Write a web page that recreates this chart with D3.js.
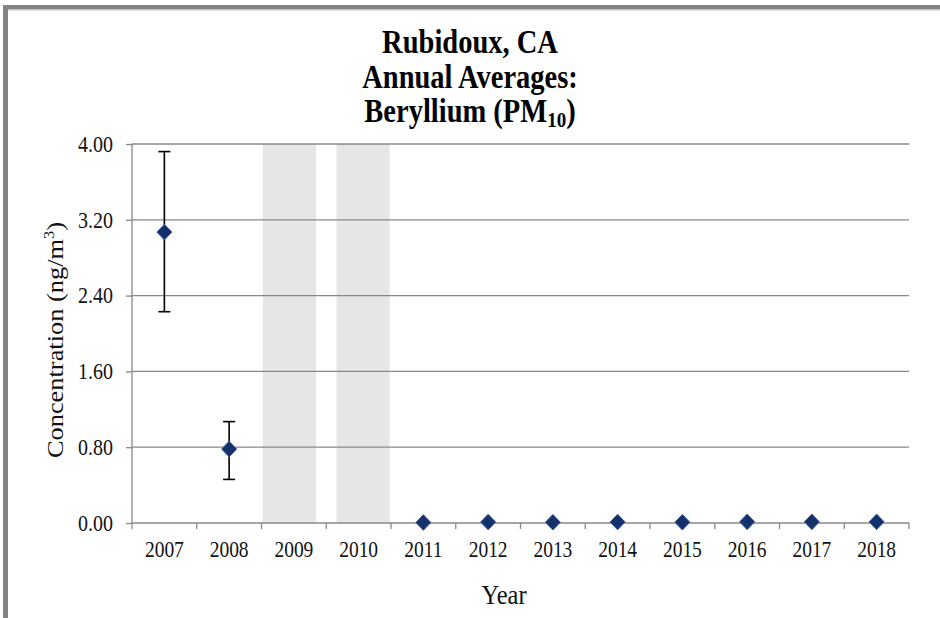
<!DOCTYPE html>
<meta charset="utf-8">
<style>
body { margin: 0; background: #fff; }
text { font-family: "Liberation Serif", "Times New Roman", serif; }
</style>
<svg width="940" height="618"></svg>
<script src="https://cdn.jsdelivr.net/npm/d3@7"></script>
<script>

var years = ["2007","2008","2009","2010","2011","2012","2013","2014","2015","2016","2017","2018"];
var avgYears = ["2007","2008","2011","2012","2013","2014","2015","2016","2017","2018"];
var averages = [3.07, 0.78, 0.005, 0.010, 0.008, 0.010, 0.008, 0.012, 0.012, 0.012];
var lowerCI = [2.23, 0.46, 0.004, 0.009, 0.007, 0.009, 0.007, 0.011, 0.011, 0.011];
var upperCI = [3.92, 1.07, 0.006, 0.011, 0.009, 0.011, 0.009, 0.013, 0.013, 0.013];
var noDataYears = ["2009","2010"];
var yTicks = [0, 0.8, 1.6, 2.4, 3.2, 4.0];

var svg = d3.select("svg"),
    margin = {top: 144, right: 31, bottom: 95, left: 132},
    width = +svg.attr("width") - margin.left - margin.right,
    height = +svg.attr("height") - margin.top - margin.bottom;

var stretch = 1.15; // source image text is a bit tall

// page frame
svg.append("rect").attr("x", 3).attr("y", 5).attr("width", 937).attr("height", 4.5).attr("fill", "#838383");
svg.append("rect").attr("x", 3).attr("y", 5).attr("width", 5).attr("height", 613).attr("fill", "#838383");
svg.append("line").attr("x1", 8).attr("x2", 940).attr("y1", 10.5).attr("y2", 10.5).attr("stroke", "#e4e4e4");

var x = d3.scaleBand().domain(years).range([0, width]);
var y = d3.scaleLinear().domain([0, 4]).range([height, 0]);

var g = svg.append("g").attr("transform", "translate(" + margin.left + "," + margin.top + ")");

// shaded years with no samples
var bw = x.bandwidth() * 0.82;
g.selectAll(".nodata")
    .data(noDataYears)
  .enter().append("rect")
    .attr("class", "nodata")
    .attr("x", function(d, i) { return x(d) + x.bandwidth() / 2 - bw / 2 + (i === 0 ? -4.5 : 4.5); })
    .attr("y", y(4))
    .attr("width", bw)
    .attr("height", y(0) - y(4))
    .attr("fill", "#e6e6e6");

// gridlines
g.selectAll(".grid")
    .data(yTicks.slice(1))
  .enter().append("line")
    .attr("x1", 0).attr("x2", width)
    .attr("y1", function(d) { return y(d); })
    .attr("y2", function(d) { return y(d); })
    .attr("stroke", "#888")
    .attr("stroke-width", 1.3);

// y axis
var yAxis = g.append("g")
    .call(d3.axisLeft(y).tickValues(yTicks).tickFormat(d3.format(".2f")).tickSize(6).tickPadding(13));
yAxis.select(".domain").attr("stroke", "#888").attr("stroke-width", 1.3).attr("d", "M0," + height + "V0");
yAxis.selectAll(".tick line").attr("stroke", "#888").attr("stroke-width", 1.3);
yAxis.selectAll(".tick text")
    .attr("fill", "#111")
    .attr("transform", "scale(1," + stretch + ")")
    .style("font-size", "20px").style("font-family", "Liberation Serif");

// x axis
var xAxis = g.append("g")
    .attr("transform", "translate(0," + height + ")")
    .call(d3.axisBottom(x).tickSize(0).tickPadding(15.5));
xAxis.select(".domain").attr("stroke", "#888").attr("stroke-width", 1.3).attr("d", "M0,0H" + width);
xAxis.selectAll(".tick text")
    .attr("fill", "#111")
    .attr("transform", "scale(1," + stretch + ")")
    .style("font-size", "19.5px").style("font-family", "Liberation Serif");
xAxis.selectAll(".bound")
    .data(years.concat(["end"]))
  .enter().append("line")
    .attr("x1", function(d, i) { return i * x.step(); })
    .attr("x2", function(d, i) { return i * x.step(); })
    .attr("y1", 0).attr("y2", 6)
    .attr("stroke", "#888").attr("stroke-width", 1.3);

// error bars
var pts = avgYears.map(function(yr, i) {
  return {year: yr, mean: averages[i], lo: lowerCI[i], hi: upperCI[i]};
});
var cx = function(d) { return x(d.year) + x.bandwidth() / 2; };
var err = g.selectAll(".err").data(pts).enter().append("g").attr("class", "err")
    .attr("stroke", "#000").attr("stroke-width", 1.6);
err.append("line")
    .attr("x1", cx).attr("x2", cx)
    .attr("y1", function(d) { return y(d.hi); })
    .attr("y2", function(d) { return y(d.lo); });
err.append("line")
    .attr("x1", function(d) { return cx(d) - 6; }).attr("x2", function(d) { return cx(d) + 6; })
    .attr("y1", function(d) { return y(d.hi); }).attr("y2", function(d) { return y(d.hi); });
err.append("line")
    .attr("x1", function(d) { return cx(d) - 6; }).attr("x2", function(d) { return cx(d) + 6; })
    .attr("y1", function(d) { return y(d.lo); }).attr("y2", function(d) { return y(d.lo); });

// diamonds
g.selectAll(".pt")
    .data(pts)
  .enter().append("path")
    .attr("class", "pt")
    .attr("d", "M0,-7.8L7.5,0L0,7.8L-7.5,0Z")
    .attr("transform", function(d) { return "translate(" + cx(d) + "," + y(d.mean) + ")"; })
    .attr("fill", "#14316b")
    .attr("stroke", "#3a5a96")
    .attr("stroke-width", 1);

// titles, one text per line
var titleLines = [["Rubidoux, CA", 53], ["Annual Averages:", 88]];
titleLines.forEach(function(l) {
  svg.append("text")
      .attr("transform", "translate(470," + l[1] + ") scale(1," + stretch + ")")
      .attr("text-anchor", "middle")
      .attr("font-weight", "bold")
      .style("font-size", "28.5px")
      .attr("fill", "#000")
      .text(l[0]);
});
var t3 = svg.append("text")
    .attr("transform", "translate(470,122) scale(1," + stretch + ")")
    .attr("text-anchor", "middle")
    .attr("font-weight", "bold")
    .style("font-size", "28.5px")
    .attr("fill", "#000");
t3.append("tspan").text("Beryllium (PM");
t3.append("tspan").attr("dy", 4).style("font-size", "19px").text("10");
t3.append("tspan").attr("dy", -4).text(")");

var ylab = svg.append("text")
    .attr("transform", "translate(63,340) rotate(-90) scale(1.1,1)")
    .attr("text-anchor", "middle")
    .style("font-size", "24px")
    .attr("fill", "#111");
ylab.append("tspan").text("Concentration (ng/m");
ylab.append("tspan").attr("dy", -9).style("font-size", "15px").text("3");
ylab.append("tspan").attr("dy", 9).text(")");

svg.append("text")
    .attr("transform", "translate(504,604) scale(1," + stretch + ")")
    .attr("text-anchor", "middle")
    .style("font-size", "24.5px")
    .attr("fill", "#111")
    .text("Year");

</script>
